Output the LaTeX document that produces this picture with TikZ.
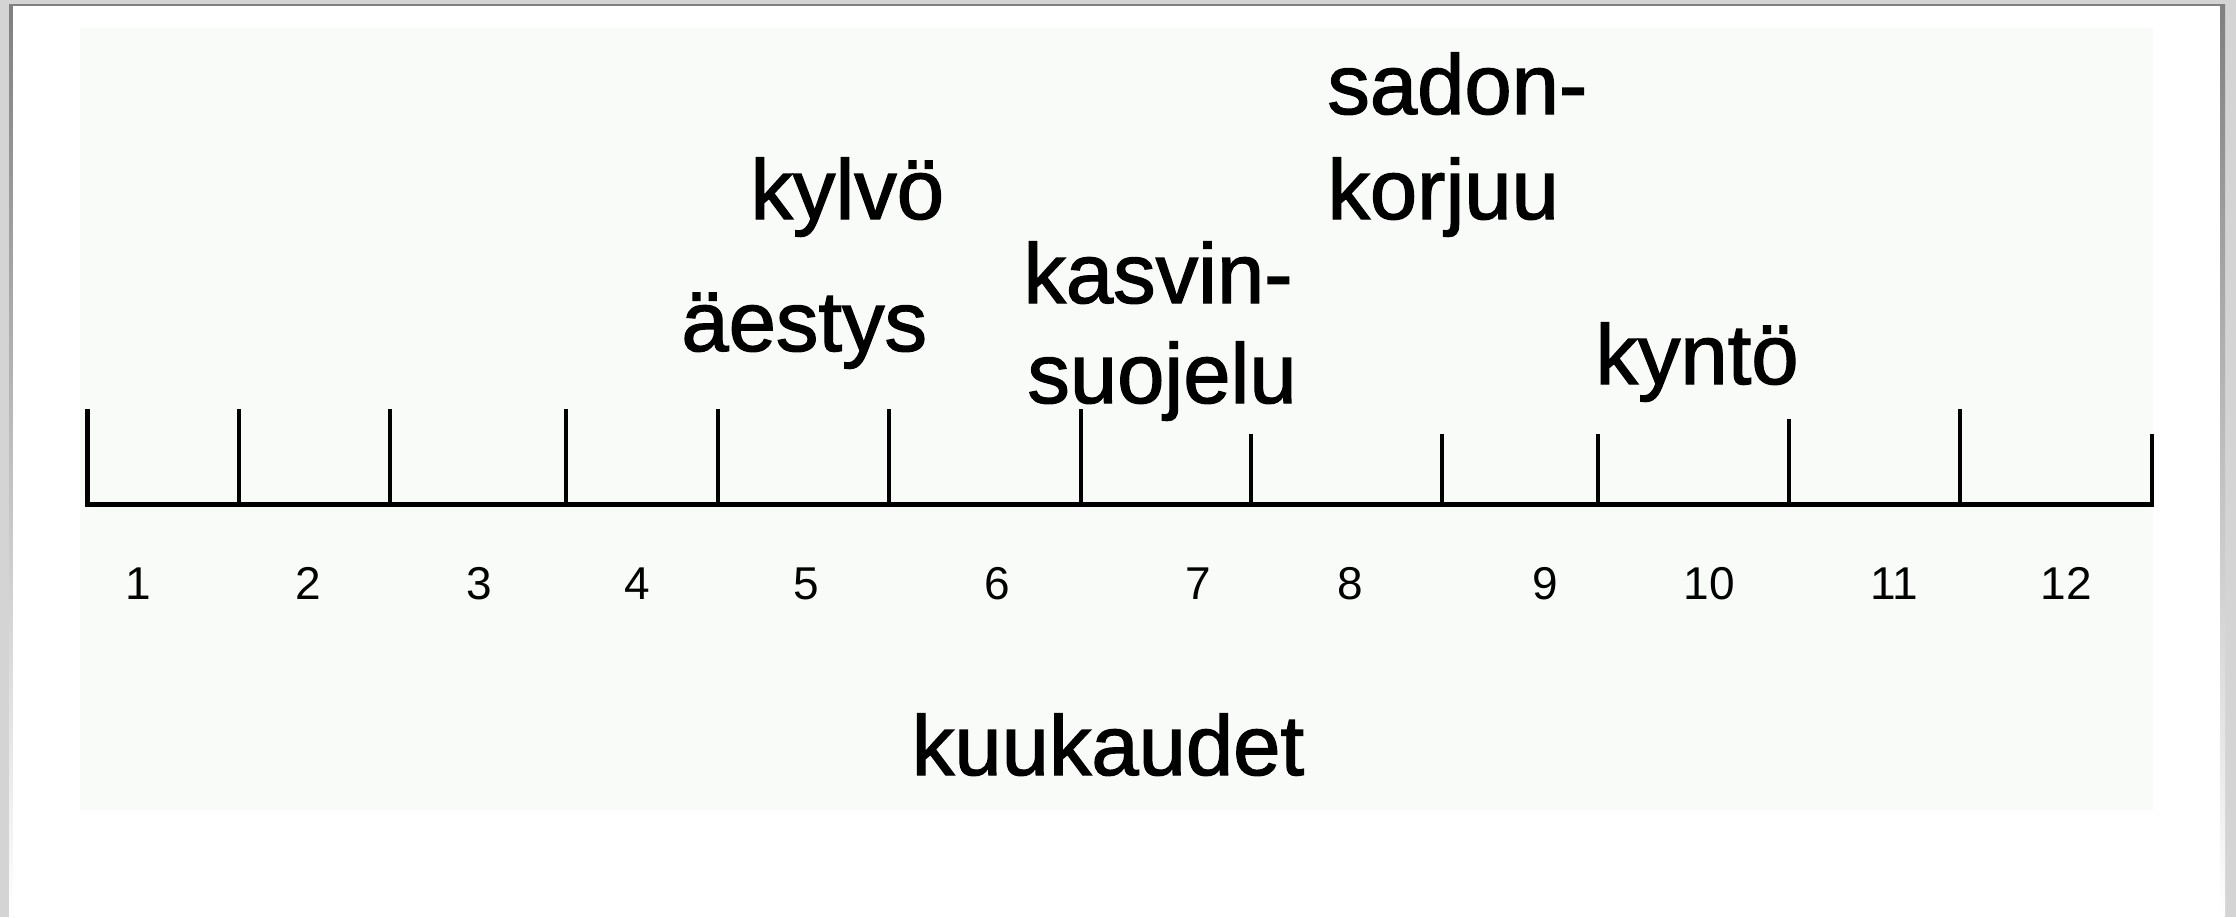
\documentclass[tikz,border=0pt]{standalone}
\usepackage{fontspec}
\setmainfont{Liberation Sans}
\newfontfamily\heavyfont[FakeBold=1.5]{Liberation Sans}
\definecolor{frame}{RGB}{212,212,212}
\definecolor{shade}{RGB}{168,168,168}
\definecolor{panel}{RGB}{249,251,248}
\tikzset{
  big/.style={font=\heavyfont\fontsize{42.5}{50}\selectfont, inner sep=0pt, anchor=base west},
  num/.style={font=\fontsize{23}{27}\selectfont, inner sep=0pt, anchor=base},
  axisline/.style={line width=2.4pt, line cap=rect},
  tick/.style={line width=2.3pt}
}
\begin{document}
\begin{tikzpicture}[x={(0.5pt,0)}, y={(0,-0.5pt)}]
\useasboundingbox (0,0) rectangle (2236,917);
% window frame
\fill[frame] (0,0) rectangle (2236,917);
\fill[shade] (9,4) rectangle (2225,917);
\fill[white] (13,6) rectangle (2220,917);
% panel
\fill[panel] (80,28) rectangle (2153,810);
% axis
\coordinate (A) at (87.5,504.5);
\coordinate (B) at (2152,504.5);
\draw[axisline] (A) -- (B);
\foreach \x/\t in {87.5/409,239/409,390/409,566/409,718/409,889/409,1081/409,1251/434,1442/434,1598/434,1789/419,1960/409,2152/434}
  \draw[tick] (\x,504) -- (\x,\t);
% month numbers
\foreach \x/\n in {138/1,308/2,479/3,637/4,806/5,997/6,1198/7,1350/8,1545/9,1709/10,1894/11,2066/12}
  \node[num] (m\n) at (\x,599) {\n};
% labels
\node[big] (sadon) at (1327,114) {sadon-};
\node[big] (korjuu) at (1327,219) {korjuu};
\node[big] (kylvo) at (750,219) {kylvö};
\node[big] (aestys) at (681,351) {äestys};
\node[big] (kasvin) at (1023,303) {kasvin-};
\node[big] (suojelu) at (1027,403) {suojelu};
\node[big] (kynto) at (1595,384) {kyntö};
\node[big, anchor=base] (kuukaudet) at (1108,775) {kuukaudet};
\end{tikzpicture}
\end{document}
